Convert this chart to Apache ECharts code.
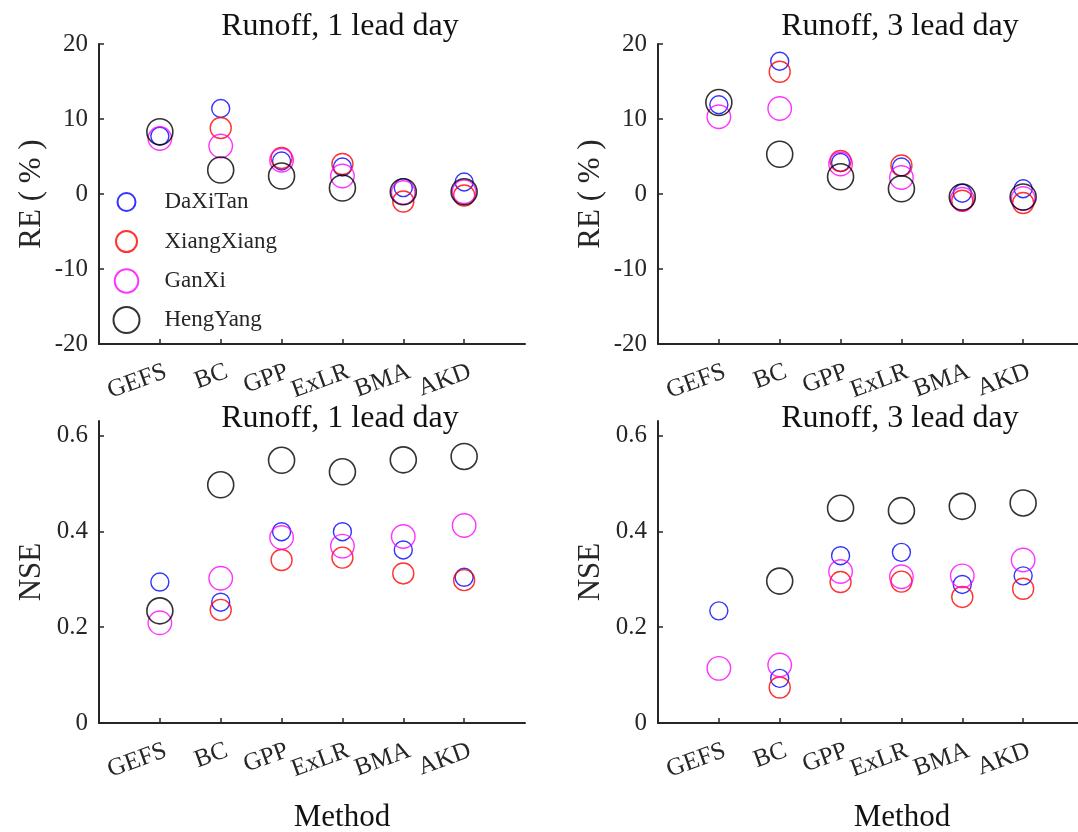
<!DOCTYPE html>
<html>
<head>
<meta charset="utf-8">
<script src="https://cdn.jsdelivr.net/npm/echarts@6/dist/echarts.min.js"></script>
<style>
  html, body { margin: 0; padding: 0; background: #fff; }
  #chart { width: 1078px; height: 832px; }
</style>
</head>
<body>
<div id="chart"></div>
<script>
// Methods on the x axis (positions 1..6)
const methods = ['GEFS', 'BC', 'GPP', 'ExLR', 'BMA', 'AKD'];
// Gauging stations
const stations = ['DaXiTan', 'XiangXiang', 'GanXi', 'HengYang'];

// Relative error (%) of runoff, 1 lead day (null = not available)
const re1_DaXiTan    = [7.7, 11.4, 4.4, 3.6, 0.85, 1.6];
const re1_XiangXiang = [null, 8.8, 4.8, 4.0, -1.0, -0.2];
const re1_GanXi      = [7.4, 6.4, 4.5, 2.4, 0.2, 0.3];
const re1_HengYang   = [8.3, 3.2, 2.4, 0.8, 0.3, 0.3];

// Relative error (%) of runoff, 3 lead day
const re3_DaXiTan    = [11.9, 17.7, 4.2, 3.6, 0.1, 0.7];
const re3_XiangXiang = [null, 16.3, 4.4, 3.8, -0.9, -1.2];
const re3_GanXi      = [10.3, 11.4, 4.0, 2.2, -0.7, -0.6];
const re3_HengYang   = [12.2, 5.3, 2.3, 0.7, -0.4, -0.4];

// Nash-Sutcliffe efficiency, 1 lead day
const nse1_DaXiTan    = [0.294, 0.252, 0.399, 0.399, 0.361, 0.304];
const nse1_XiangXiang = [null, 0.236, 0.340, 0.345, 0.312, 0.298];
const nse1_GanXi      = [0.209, 0.302, 0.387, 0.369, 0.389, 0.412];
const nse1_HengYang   = [0.234, 0.497, 0.548, 0.524, 0.549, 0.556];

// Nash-Sutcliffe efficiency, 3 lead day
const nse3_DaXiTan    = [0.234, 0.093, 0.349, 0.356, 0.289, 0.307];
const nse3_XiangXiang = [null, 0.074, 0.294, 0.295, 0.263, 0.280];
const nse3_GanXi      = [0.114, 0.121, 0.316, 0.305, 0.307, 0.340];
const nse3_HengYang   = [null, 0.296, 0.448, 0.443, 0.452, 0.459];

// Tick values
const reTicks  = [-20, -10, 0, 10, 20];
const nseTicks = [0, 0.2, 0.4, 0.6];
const methodTicks = [1, 2, 3, 4, 5, 6];
// Rotated method labels sit slightly right of their ticks
const methodLabelPos = [1.1, 2.1, 3.1, 4.1, 5.1, 6.1];

const panelTitles = ['Runoff, 1 lead day', 'Runoff, 3 lead day', 'Runoff, 1 lead day', 'Runoff, 3 lead day'];

const panels = [
  [re1_DaXiTan, re1_XiangXiang, re1_GanXi, re1_HengYang],
  [re3_DaXiTan, re3_XiangXiang, re3_GanXi, re3_HengYang],
  [nse1_DaXiTan, nse1_XiangXiang, nse1_GanXi, nse1_HengYang],
  [nse3_DaXiTan, nse3_XiangXiang, nse3_GanXi, nse3_HengYang]
];

const colors = ['#0000ff', '#ff0000', '#ff00ff', '#000000'];
const sizes = [18, 21, 23.5, 26];
const serif = '"Liberation Serif", "Times New Roman", serif';
const ink = '#262626';

const grids = [
  { left: 99, top: 44, width: 426, height: 300 },
  { left: 658, top: 44, width: 426, height: 300 },
  { left: 99, top: 421, width: 426, height: 302 },
  { left: 658, top: 421, width: 426, height: 302 }
].map(g => Object.assign({ outerBoundsMode: 'none', containLabel: false }, g));

const xAxes = grids.map((g, i) => ({
  type: 'value',
  gridIndex: i,
  min: 0, max: 7, interval: 1,
  axisLine: { show: true, onZero: false, lineStyle: { color: ink, width: 2 } },
  axisTick: { show: true, inside: true, length: 5, customValues: methodTicks, lineStyle: { color: ink, width: 1.5 } },
  splitLine: { show: false },
  axisLabel: {
    show: true,
    customValues: methodLabelPos,
    rotate: 20,
    margin: 27,
    fontFamily: serif, fontSize: 25, color: ink,
    formatter: v => methods[Math.round(v) - 1] || ''
  }
}));

const yAxes = grids.map((g, i) => {
  const isRE = i < 2;
  return {
    type: 'value',
    gridIndex: i,
    min: isRE ? -20 : 0,
    max: isRE ? 20 : 0.63,
    interval: isRE ? 10 : 0.2,
    name: isRE ? 'RE ( % )' : 'NSE',
    nameLocation: 'middle',
    nameGap: 52,
    nameTextStyle: { fontFamily: serif, fontSize: 31, color: ink },
    axisLine: { show: true, onZero: false, lineStyle: { color: ink, width: 2 } },
    axisTick: { show: true, inside: true, length: 5, customValues: isRE ? reTicks : nseTicks, lineStyle: { color: ink, width: 1.5 } },
    splitLine: { show: false },
    axisLabel: {
      customValues: isRE ? reTicks : nseTicks,
      margin: 11,
      fontFamily: serif, fontSize: 25, color: ink,
      formatter: v => isRE ? String(v) : (v === 0 ? '0' : v.toFixed(1))
    }
  };
});

const series = [];
panels.forEach((panel, p) => {
  panel.forEach((vals, s) => {
    const pts = [];
    vals.forEach((v, k) => { if (v !== null) pts.push([k + 1, v]); });
    series.push({
      type: 'scatter',
      name: stations[s],
      xAxisIndex: p,
      yAxisIndex: p,
      symbol: 'circle',
      symbolSize: sizes[s],
      itemStyle: { color: 'transparent', borderColor: colors[s], borderWidth: s === 3 ? 1.6 : 1.4 },
      emphasis: { disabled: true },
      silent: true,
      data: pts
    });
  });
});

// One legend block per station so each keeps its own marker size
const legendCenters = [201.5, 241, 280.5, 319.5];
const legends = stations.map((name, s) => ({
  data: [name],
  orient: 'vertical',
  left: 120.5 - sizes[s] / 2,
  top: legendCenters[s] - 18.5,
  itemWidth: 66,
  itemHeight: sizes[s],
  itemGap: 0,
  selectedMode: false,
  textStyle: { fontFamily: serif, fontSize: 23, color: ink, lineHeight: 28 }
}));

const textEl = (txt, x, y, size) => ({
  type: 'text', x: x, y: y, silent: true,
  style: { text: txt, font: size + 'px ' + serif, fill: '#111', align: 'center', verticalAlign: 'middle' }
});

const graphic = [
  textEl(panelTitles[0], 340, 27, 32),
  textEl(panelTitles[1], 900, 27, 32),
  textEl(panelTitles[2], 340, 419, 32),
  textEl(panelTitles[3], 900, 419, 32),
  textEl('Method', 342, 818, 31),
  textEl('Method', 902, 818, 31)
];

const chart = echarts.init(document.getElementById('chart'), null, { renderer: 'canvas' });
chart.setOption({
  animation: false,
  backgroundColor: '#ffffff',
  grid: grids,
  xAxis: xAxes,
  yAxis: yAxes,
  legend: legends,
  graphic: graphic,
  series: series
});
</script>
</body>
</html>
